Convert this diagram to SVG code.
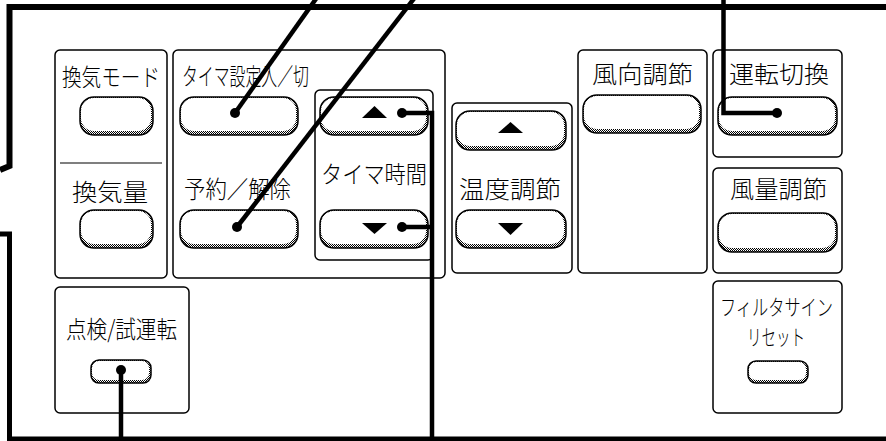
<svg xmlns="http://www.w3.org/2000/svg" width="886" height="441" viewBox="0 0 886 441">
<defs>
<pattern id="stip" width="2" height="2" patternUnits="userSpaceOnUse">
<rect width="2" height="2" fill="#fff"/>
<rect x="0" y="0" width="1" height="1" fill="#000"/>
<rect x="1" y="1" width="1" height="1" fill="#000"/>
</pattern>
</defs>
<style>
.panel{fill:none;stroke:#000;stroke-width:1.5}
.bo{fill:url(#stip);stroke:#000;stroke-width:1.5}
.bi{fill:#fff;stroke:none}
.tri{fill:#000}
.lbl{font-family:"Noto Sans CJK JP","Noto Sans",sans-serif;font-size:24px;font-weight:300;fill:#000;text-anchor:middle}
.sm{font-size:22px}
.frame{fill:none;stroke:#000;stroke-linejoin:miter}
.lead{fill:none;stroke:#000;stroke-width:4.5}
.dot{fill:#000}
</style>
<rect width="886" height="441" fill="#fff"/>

<g id="frame">
<path class="frame" stroke-width="6" d="M0,170 L9.5,166 L9.5,7 L886,7"/>
<path class="frame" stroke-width="5" d="M0,234 L9.5,234 L9.5,439 L886,439"/>
</g>

<g id="panel-kanki">
<rect class="panel" x="55" y="50" width="112" height="228" rx="5"/>
<line x1="60" y1="163" x2="162" y2="163" stroke="#000" stroke-width="1.2"/>
<text class="lbl" x="111" y="86" textLength="98" lengthAdjust="spacingAndGlyphs">換気モード</text>
<rect class="bo" x="80" y="97" width="73" height="38" rx="14"/>
<rect class="bi" x="81" y="98" width="70" height="33" rx="13"/>
<text class="lbl" x="110" y="201" textLength="76" lengthAdjust="spacingAndGlyphs">換気量</text>
<rect class="bo" x="80" y="210" width="73" height="38" rx="14"/>
<rect class="bi" x="81" y="211" width="70" height="33" rx="13"/>
</g>

<g id="panel-timer">
<rect class="panel" x="173" y="50" width="272" height="228" rx="5"/>
<text class="lbl" x="245.5" y="85" textLength="127" lengthAdjust="spacingAndGlyphs">タイマ設定入／切</text>
<rect class="bo" x="180" y="97" width="118" height="38" rx="14"/>
<rect class="bi" x="181" y="98" width="115" height="33" rx="13"/>
<text class="lbl" x="237.5" y="198" textLength="107" lengthAdjust="spacingAndGlyphs">予約／解除</text>
<rect class="bo" x="180" y="210" width="118" height="38" rx="14"/>
<rect class="bi" x="181" y="211" width="115" height="33" rx="13"/>
</g>

<g id="panel-timer-time">
<rect class="panel" x="315" y="90" width="118" height="170" rx="5"/>
<rect class="bo" x="320" y="97" width="108" height="38" rx="14"/>
<rect class="bi" x="321" y="98" width="105" height="33" rx="13"/>
<polygon class="tri" points="362,118 387,118 374.5,106"/>
<text class="lbl" x="374" y="183" textLength="106" lengthAdjust="spacingAndGlyphs">タイマ時間</text>
<rect class="bo" x="320" y="210" width="108" height="38" rx="14"/>
<rect class="bi" x="321" y="211" width="105" height="33" rx="13"/>
<polygon class="tri" points="362,223 387,223 374.5,234"/>
</g>

<g id="panel-temp">
<rect class="panel" x="452" y="103" width="120" height="170" rx="5"/>
<rect class="bo" x="456" y="111" width="110" height="39" rx="14"/>
<rect class="bi" x="457" y="112" width="107" height="34" rx="13"/>
<polygon class="tri" points="498,133 523,133 510.5,122"/>
<text class="lbl" x="510" y="198" textLength="102" lengthAdjust="spacingAndGlyphs">温度調節</text>
<rect class="bo" x="456" y="210" width="110" height="38" rx="14"/>
<rect class="bi" x="457" y="211" width="107" height="33" rx="13"/>
<polygon class="tri" points="498,223 523,223 510.5,235"/>
</g>

<g id="panel-fukou">
<rect class="panel" x="578" y="50" width="129" height="223" rx="5"/>
<text class="lbl" x="642.5" y="83" textLength="101" lengthAdjust="spacingAndGlyphs">風向調節</text>
<rect class="bo" x="583" y="95" width="118" height="38" rx="14"/>
<rect class="bi" x="584" y="96" width="115" height="33" rx="13"/>
</g>

<g id="panel-unten">
<rect class="panel" x="713" y="50" width="129" height="107" rx="5"/>
<text class="lbl" x="779" y="83" textLength="100" lengthAdjust="spacingAndGlyphs">運転切換</text>
<rect class="bo" x="718" y="97" width="119" height="38" rx="14"/>
<rect class="bi" x="719" y="98" width="116" height="33" rx="13"/>
</g>

<g id="panel-fuuryou">
<rect class="panel" x="713" y="168" width="129" height="105" rx="5"/>
<text class="lbl" x="778.5" y="198" textLength="97" lengthAdjust="spacingAndGlyphs">風量調節</text>
<rect class="bo" x="718" y="213" width="119" height="39" rx="14"/>
<rect class="bi" x="719" y="214" width="116" height="34" rx="13"/>
</g>

<g id="panel-filter">
<rect class="panel" x="713" y="281" width="129" height="132" rx="5"/>
<text class="lbl sm" x="776.5" y="315" textLength="113" lengthAdjust="spacingAndGlyphs">フィルタサイン</text>
<text class="lbl sm" x="776" y="345" textLength="58" lengthAdjust="spacingAndGlyphs">リセット</text>
<rect class="bo" x="748" y="361" width="60" height="22" rx="8"/>
<rect class="bi" x="749" y="362" width="57" height="18" rx="7"/>
</g>

<g id="panel-tenken">
<rect class="panel" x="55" y="287" width="134" height="126" rx="5"/>
<text class="lbl" x="121.5" y="338" textLength="111" lengthAdjust="spacingAndGlyphs">点検/試運転</text>
<rect class="bo" x="91" y="360" width="60" height="23" rx="8"/>
<rect class="bi" x="92" y="361" width="57" height="19" rx="7"/>
</g>

<g id="connectors">
<line class="lead" x1="235" y1="113" x2="318" y2="-4"/>
<line class="lead" x1="237" y1="227" x2="416" y2="-4"/>
<polyline class="lead" points="777,113 723.5,113 723.5,0"/>
<polyline class="lead" points="402,113 432,113 432,441"/>
<line class="lead" x1="402" y1="227" x2="432" y2="227"/>
<line class="lead" x1="121" y1="370" x2="121" y2="441"/>
<circle class="dot" cx="235" cy="113" r="5"/>
<circle class="dot" cx="237" cy="227" r="5"/>
<circle class="dot" cx="777" cy="113" r="5"/>
<circle class="dot" cx="402" cy="113" r="5"/>
<circle class="dot" cx="402" cy="227" r="5"/>
<circle class="dot" cx="121" cy="370" r="5"/>
</g>
</svg>
